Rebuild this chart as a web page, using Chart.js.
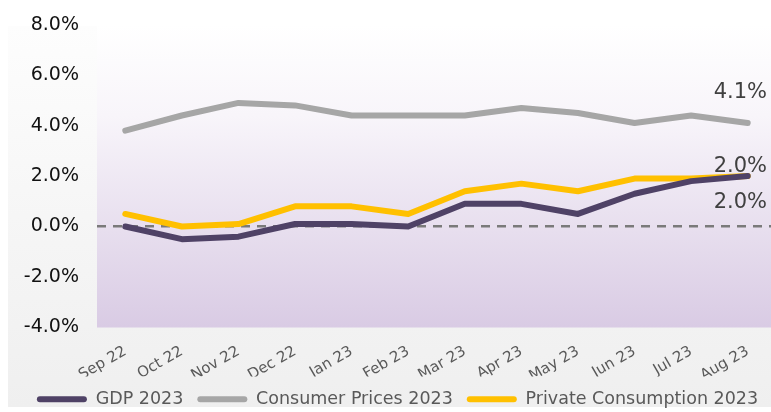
<!DOCTYPE html>
<html>
<head>
<meta charset="utf-8">
<script src="https://cdn.jsdelivr.net/npm/chart.js@4/dist/chart.umd.min.js"></script>
<style>
  html, body { margin: 0; padding: 0; overflow: hidden; background: #fff; }
  #wrap { width: 781px; height: 418px; }
</style>
</head>
<body>
<div id="wrap"><canvas id="econ-chart"></canvas></div>
<script>
const months = ['Sep 22', 'Oct 22', 'Nov 22', 'Dec 22', 'Jan 23', 'Feb 23', 'Mar 23', 'Apr 23', 'May 23', 'Jun 23', 'Jul 23', 'Aug 23'];
const gdp = [0.0, -0.5, -0.4, 0.1, 0.1, 0.0, 0.9, 0.9, 0.5, 1.3, 1.8, 2.0];
const consumerPrices = [3.8, 4.4, 4.9, 4.8, 4.4, 4.4, 4.4, 4.7, 4.5, 4.1, 4.4, 4.1];
const privateConsumption = [0.5, 0.0, 0.1, 0.8, 0.8, 0.5, 1.4, 1.7, 1.4, 1.9, 1.9, 2.0];
const endLabels = ['2.0%', '4.1%', '2.0%'];

const FONT = "'DejaVu Sans', sans-serif";

// backgrounds: grey panel + lavender plot area
const bgPlugin = {
    id: 'bg',
    beforeDraw(chart) {
        const { ctx, chartArea: a, width } = chart;
        ctx.save();
        ctx.fillStyle = '#ffffff';
        ctx.fillRect(0, 0, width, chart.height);
        let g = ctx.createLinearGradient(0, 26, 0, 407);
        g.addColorStop(0, '#fdfdfd');
        g.addColorStop(1, '#efefef');
        ctx.fillStyle = g;
        ctx.fillRect(8, 26, width - 8, 381);
        g = ctx.createLinearGradient(0, a.top, 0, a.bottom);
        g.addColorStop(0, '#ffffff');
        g.addColorStop(0.3, '#f8f5fa');
        g.addColorStop(1, '#d9cbe4');
        ctx.fillStyle = g;
        ctx.fillRect(a.left, a.top, width - a.left, a.bottom - a.top);
        ctx.restore();
    }
};

// value labels at the last point
const endLabelPlugin = {
    id: 'endLabels',
    afterDatasetsDraw(chart) {
        const { ctx } = chart;
        const shifts = [26, -31, -10];
        ctx.save();
        ctx.font = '21px ' + FONT;
        ctx.fillStyle = '#404040';
        ctx.textAlign = 'right';
        ctx.textBaseline = 'middle';
        chart.data.datasets.forEach((ds, i) => {
            const pts = chart.getDatasetMeta(i).data;
            const p = pts[pts.length - 1];
            ctx.fillText(endLabels[i], 767, p.y + shifts[i]);
        });
        ctx.restore();
    }
};

const ctx = document.getElementById('econ-chart').getContext('2d');
new Chart(ctx, {
    type: 'line',
    data: {
        labels: months,
        datasets: [
            { label: 'GDP 2023', data: gdp, borderColor: '#4f4266', backgroundColor: '#4f4266' },
            { label: 'Consumer Prices 2023', data: consumerPrices, borderColor: '#a6a6a6', backgroundColor: '#a6a6a6' },
            { label: 'Private Consumption 2023', data: privateConsumption, borderColor: '#ffc000', backgroundColor: '#ffc000' }
        ]
    },
    options: {
        responsive: true,
        maintainAspectRatio: false,
        animation: false,
        layout: { autoPadding: false, padding: { left: 19, right: 5, top: 21, bottom: 0 } },
        elements: {
            line: { borderWidth: 6, tension: 0, borderCapStyle: 'round', borderJoinStyle: 'round' },
            point: { radius: 0 }
        },
        plugins: {
            legend: {
                position: 'bottom',
                labels: {
                    color: '#595959',
                    font: { family: FONT, size: 17.5 },
                    boxWidth: 50,
                    boxHeight: 6,
                    padding: 14,
                    useBorderRadius: true,
                    borderRadius: 3,
                    generateLabels: chart =>
                        Chart.defaults.plugins.legend.labels.generateLabels(chart)
                            .map(l => ({ ...l, lineWidth: 0 }))
                }
            },
            tooltip: { enabled: false }
        },
        scales: {
            x: {
                offset: true,
                afterFit: scale => { scale.height = 49; },
                grid: { display: false },
                border: { display: false },
                ticks: {
                    color: '#595959',
                    font: { family: FONT, size: 15 },
                    minRotation: 30,
                    maxRotation: 30,
                    padding: 7
                }
            },
            y: {
                min: -4,
                max: 8,
                afterFit: scale => { scale.width = 78; },
                border: { display: false, dash: [9, 7] },
                grid: {
                    drawTicks: false,
                    color: c => c.tick && c.tick.value === 0 ? '#7a7a7a' : 'rgba(0,0,0,0)',
                    lineWidth: 2.5
                },
                ticks: {
                    stepSize: 2,
                    padding: 18,
                    color: '#111111',
                    font: { family: FONT, size: 19, lineHeight: 0.7 },
                    callback: v => v.toFixed(1) + '%'
                }
            }
        }
    },
    plugins: [bgPlugin, endLabelPlugin]
});
</script>
</body>
</html>
